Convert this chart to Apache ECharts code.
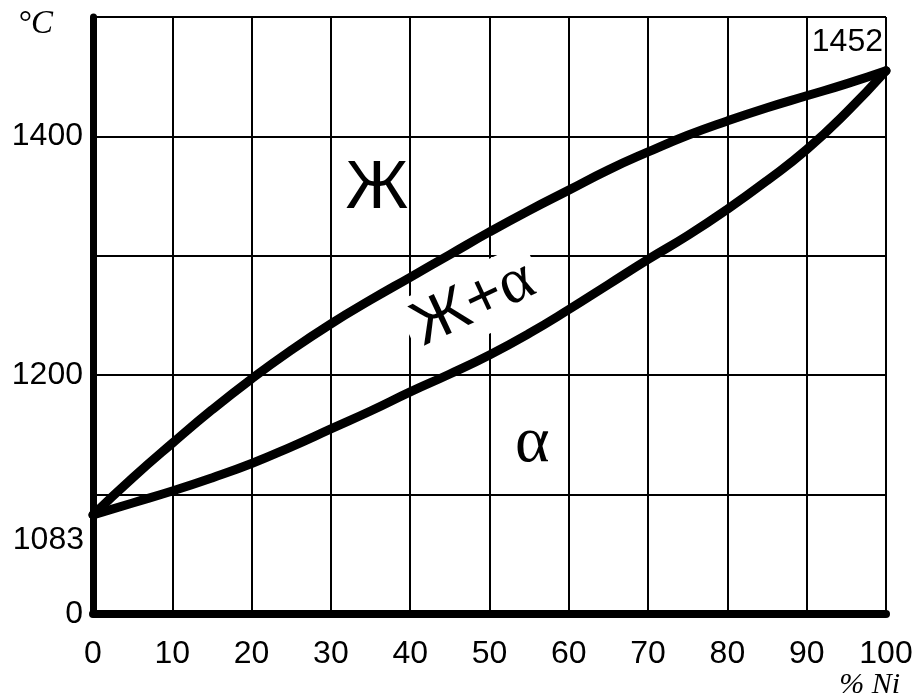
<!DOCTYPE html>
<html><head><meta charset="utf-8">
<script src="https://cdn.jsdelivr.net/npm/echarts@6/dist/echarts.min.js"></script>
<style>html,body{margin:0;padding:0;background:#fff}#c{width:923px;height:700px}</style>
</head><body><div id="c"></div>
<script>
// Composition axis (% Ni), sampled every 5 %
const nickelPct = [0, 5, 10, 15, 20, 25, 30, 35, 40, 45, 50, 55, 60, 65, 70, 75, 80, 85, 90, 95, 100];
// Liquidus (upper curve), °C
const liquidusT = [1083, 1114, 1143, 1171, 1197, 1221, 1243, 1263, 1282, 1301, 1320, 1338, 1355, 1372, 1387, 1401, 1413, 1424, 1434, 1444, 1455];
// Solidus (lower curve), °C
const solidusT  = [1083, 1093, 1103, 1114, 1126, 1140, 1155, 1170, 1186, 1201, 1217, 1235, 1255, 1276, 1297, 1317, 1339, 1363, 1389, 1420, 1455];
// Y tick labels (broken axis: bottom shown as 0)
const yTickValues = [1000, 1200, 1400];
const yTickLabels = ['0', '1200', '1400'];
// Special point labels
const pointLabels = ['1083', '1452'];
const pointNi = [0, 100];
const pointT = [1083, 1455];
// Phase region labels
const regionNames = ['Ж', 'Ж+α', 'α'];
const regionNi = [35.8, 48.0, 55.4];
const regionT = [1356, 1260, 1143];

const chart = echarts.init(document.getElementById('c'), null, {renderer: 'canvas'});
const sans = 'Liberation Sans, Arial, sans-serif';
const serif = 'Liberation Serif, Times New Roman, serif';
const curveStyle = {color: '#000', width: 9, cap: 'round', join: 'round'};

chart.setOption({
  animation: false,
  backgroundColor: '#fff',
  grid: {left: 93, right: 37, top: 17, bottom: 83, containLabel: false},
  xAxis: {
    type: 'value', min: 0, max: 100, interval: 10,
    name: '% Ni', nameLocation: 'end', nameGap: 14,
    nameTextStyle: {fontFamily: serif, fontStyle: 'italic', fontSize: 30, color: '#000',
      align: 'right', verticalAlign: 'top', padding: [56, 0, 0, 0]},
    axisLine: {show: true, lineStyle: {color: '#000', width: 8, cap: 'round'}},
    axisTick: {show: false},
    axisLabel: {color: '#000', fontFamily: sans, fontSize: 32, margin: 24},
    splitLine: {show: true, lineStyle: {color: '#000', width: 2}}
  },
  yAxis: {
    type: 'value', min: 1000, max: 1500, interval: 100,
    name: '°C', nameLocation: 'end', nameGap: -7,
    nameTextStyle: {fontFamily: serif, fontStyle: 'italic', fontSize: 33, color: '#000',
      align: 'right', verticalAlign: 'middle', padding: [0, 40, 0, 0]},
    axisLine: {show: true, lineStyle: {color: '#000', width: 7, cap: 'round'}},
    axisTick: {show: false},
    axisLabel: {color: '#000', fontFamily: sans, fontSize: 32, margin: 10,
      formatter: function (v) { const i = yTickValues.indexOf(v); return i >= 0 ? yTickLabels[i] : ''; }},
    splitLine: {show: true, lineStyle: {color: '#000', width: 2}}
  },
  series: [
    {
      type: 'scatter', z: 2, silent: true, symbolSize: 0,
      itemStyle: {opacity: 1},
      data: regionNames.map((n, i) => {
        let lab;
        if (n === 'Ж+α') {
          lab = {rotate: 25, formatter: '{s|Ж+}{g|α}', backgroundColor: '#fff', padding: [2, 8, 2, 8],
            rich: {s: {fontFamily: sans, fontSize: 62, color: '#000'},
                   g: {fontFamily: serif, fontSize: 64, color: '#000'}}};
        } else if (n === 'α') {
          lab = {fontFamily: serif, fontSize: 66};
        } else {
          lab = {fontFamily: sans, fontSize: 68};
        }
        return {name: n, value: [regionNi[i], regionT[i]], label: lab};
      }),
      label: {show: true, position: 'inside', formatter: '{b}', color: '#000',
        align: 'center', verticalAlign: 'middle'}
    },
    {
      type: 'line', z: 3, silent: true, showSymbol: false, smooth: 0.5,
      data: nickelPct.map((x, i) => [x, liquidusT[i]]),
      lineStyle: curveStyle
    },
    {
      type: 'line', z: 3, silent: true, showSymbol: false, smooth: 0.5,
      data: nickelPct.map((x, i) => [x, solidusT[i]]),
      lineStyle: curveStyle
    },
    {
      type: 'scatter', z: 4, silent: true, symbolSize: 0,
      itemStyle: {opacity: 1},
      data: pointLabels.map((n, i) => ({
        name: n, value: [pointNi[i], pointT[i]],
        label: i === 0 ? {position: 'left', distance: 9, offset: [0, 25]}
                       : {position: 'left', distance: 3, offset: [0, -29]}
      })),
      label: {show: true, formatter: '{b}', color: '#000', fontFamily: sans, fontSize: 32}
    }
  ]
});
</script></body></html>
